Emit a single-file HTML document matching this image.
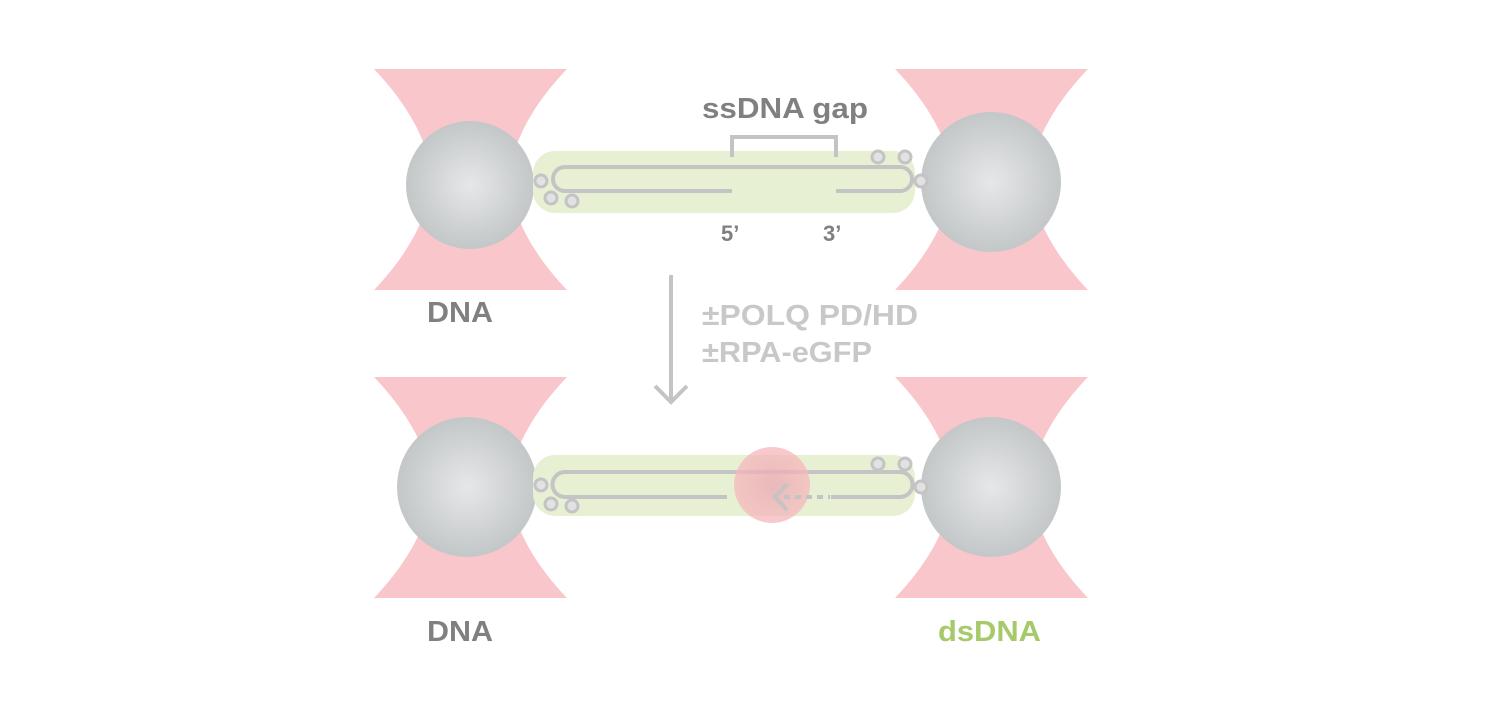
<!DOCTYPE html>
<html><head><meta charset="utf-8"><style>
html,body{margin:0;padding:0;background:#fff;width:1501px;height:701px;overflow:hidden}
svg{display:block}
text{font-family:"Liberation Sans",sans-serif;font-weight:bold}
</style></head><body>
<svg width="1501" height="701" viewBox="0 0 1501 701">
<defs>
<radialGradient id="bead" cx="0.5" cy="0.5" r="0.5">
<stop offset="0" stop-color="#e6e7e9"/><stop offset="1" stop-color="#c3c7c8"/>
</radialGradient>
<radialGradient id="red" cx="0.5" cy="0.5" r="0.5">
<stop offset="0" stop-color="#eba6b4"/><stop offset="1" stop-color="#f6b8bc"/>
</radialGradient>
<g id="coneL">
<path d="M0,0 L193,0 C150,45 136,85 136,110 C136,135 150,176 193,221 L0,221 C43,176 57,135 57,110 C57,85 43,45 0,0 Z" fill="#f8c6cb"/>
</g>
</defs>

<!-- TOP -->
<use href="#coneL" x="374" y="69"/>
<use href="#coneL" x="895" y="69"/>
<circle cx="470" cy="185" r="64" fill="url(#bead)"/>
<circle cx="991" cy="182" r="70" fill="url(#bead)"/>
<rect x="533" y="151" width="382" height="62" rx="22" fill="#e7f0d3"/>
<g fill="none" stroke="#c4c4c4" stroke-width="4">
<path d="M732,191 L565,191 A12,12 0 0 1 565,167 L900,167 A12,12 0 0 1 900,191 L836,191"/>
<path d="M732,157 L732,137 L836,137 L836,157"/>
<g fill="#e2e2e2" stroke-width="3">
<circle cx="541" cy="181" r="6"/><circle cx="551" cy="198" r="6"/><circle cx="572" cy="201" r="6"/>
<circle cx="878" cy="157" r="6"/><circle cx="905" cy="157" r="6"/><circle cx="921" cy="181" r="6"/>
</g>
</g>
<text x="702" y="118" font-size="29" fill="#808080" textLength="166" lengthAdjust="spacingAndGlyphs">ssDNA gap</text>
<text x="721" y="241" font-size="22" fill="#808080">5’</text>
<text x="823" y="241" font-size="22" fill="#808080">3’</text>
<text x="427" y="322" font-size="29" fill="#808080" textLength="66" lengthAdjust="spacingAndGlyphs">DNA</text>

<!-- arrow -->
<g stroke="#c4c4c4" stroke-width="4" fill="none">
<line x1="671" y1="275" x2="671" y2="402"/>
<path d="M655,386 L671,402 L687,386"/>
</g>
<text x="702" y="325" font-size="29" fill="#c8c8c8" textLength="216" lengthAdjust="spacingAndGlyphs">±POLQ PD/HD</text>
<text x="702" y="362" font-size="29" fill="#c8c8c8" textLength="170" lengthAdjust="spacingAndGlyphs">±RPA-eGFP</text>

<!-- BOTTOM -->
<use href="#coneL" x="374" y="377"/>
<use href="#coneL" x="895" y="377"/>
<circle cx="467" cy="487" r="70" fill="url(#bead)"/>
<circle cx="991" cy="487" r="70" fill="url(#bead)"/>
<rect x="533" y="455" width="382" height="61" rx="22" fill="#e7f0d3"/>
<g fill="none" stroke="#c4c4c4" stroke-width="4">
<path d="M727,497 L565,497 A12,12 0 0 1 565,472 L900,472 A12,12 0 0 1 900,497 L831,497"/>
<g fill="#e2e2e2" stroke-width="3">
<circle cx="541" cy="485" r="6"/><circle cx="551" cy="504" r="6"/><circle cx="572" cy="506" r="6"/>
<circle cx="878" cy="464" r="6"/><circle cx="905" cy="464" r="6"/><circle cx="921" cy="487" r="6"/>
</g>
</g>
<circle cx="772" cy="485" r="38" fill="url(#red)" opacity="0.75"/>
<g stroke="#c4c4c4" stroke-width="4" fill="none">
<line x1="784" y1="497" x2="830" y2="497" stroke-dasharray="6,5"/>
<path d="M787,484 L775,497 L787,510"/>
</g>
<text x="427" y="641" font-size="29" fill="#808080" textLength="66" lengthAdjust="spacingAndGlyphs">DNA</text>
<text x="938" y="641" font-size="29" fill="#a6c96a" textLength="103" lengthAdjust="spacingAndGlyphs">dsDNA</text>
</svg>
</body></html>
